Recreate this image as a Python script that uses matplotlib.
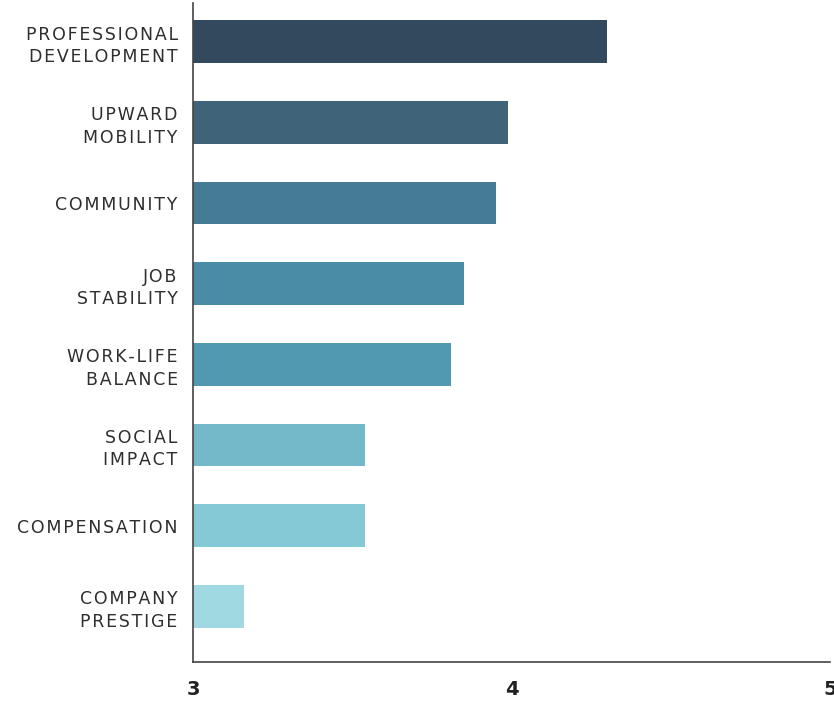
import matplotlib
matplotlib.use("Agg")
import matplotlib.pyplot as plt

categories = ["PROFESSIONAL\nDEVELOPMENT", "UPWARD\nMOBILITY", "COMMUNITY", "JOB\nSTABILITY",
              "WORK-LIFE\nBALANCE", "SOCIAL\nIMPACT", "COMPENSATION", "COMPANY\nPRESTIGE"]
values = [4.30, 3.99, 3.95, 3.85, 3.81, 3.54, 3.54, 3.16]
colors = ["#334A5E", "#3F6479", "#467B95", "#4A8CA6", "#5198B1", "#73B9CA", "#86C9D6", "#A0D9E1"]
xticks = [3, 4, 5]

def spaced(s):
    return "\n".join("\u200a".join(line) for line in s.split("\n"))

fig = plt.figure(figsize=(8.34, 7.03), dpi=100)
ax = fig.add_axes([193/834, 41/703, 637/834, 659/703])
ypos = list(range(len(categories)))
ax.barh(ypos, [v - 3 for v in values], left=3, height=0.53, color=colors)
ax.set_xlim(3, 5)
ax.set_ylim(7.69, -0.48)
ax.set_yticks(ypos)
ax.set_yticklabels([spaced(c) for c in categories], fontsize=12.5, color="#2e2e2e",
                   family="DejaVu Sans", linespacing=1.3)
ax.set_xticks(xticks)
ax.set_xticklabels([str(t) for t in xticks], fontsize=14, fontweight="bold", color="#222222")
ax.tick_params(axis="y", length=0, pad=11)
ax.tick_params(axis="x", length=0, pad=13)
for s in ["top", "right"]:
    ax.spines[s].set_visible(False)
for s in ["left", "bottom"]:
    ax.spines[s].set_color("#444444")
    ax.spines[s].set_linewidth(1.2)
fig.savefig("out.png", dpi=100)
